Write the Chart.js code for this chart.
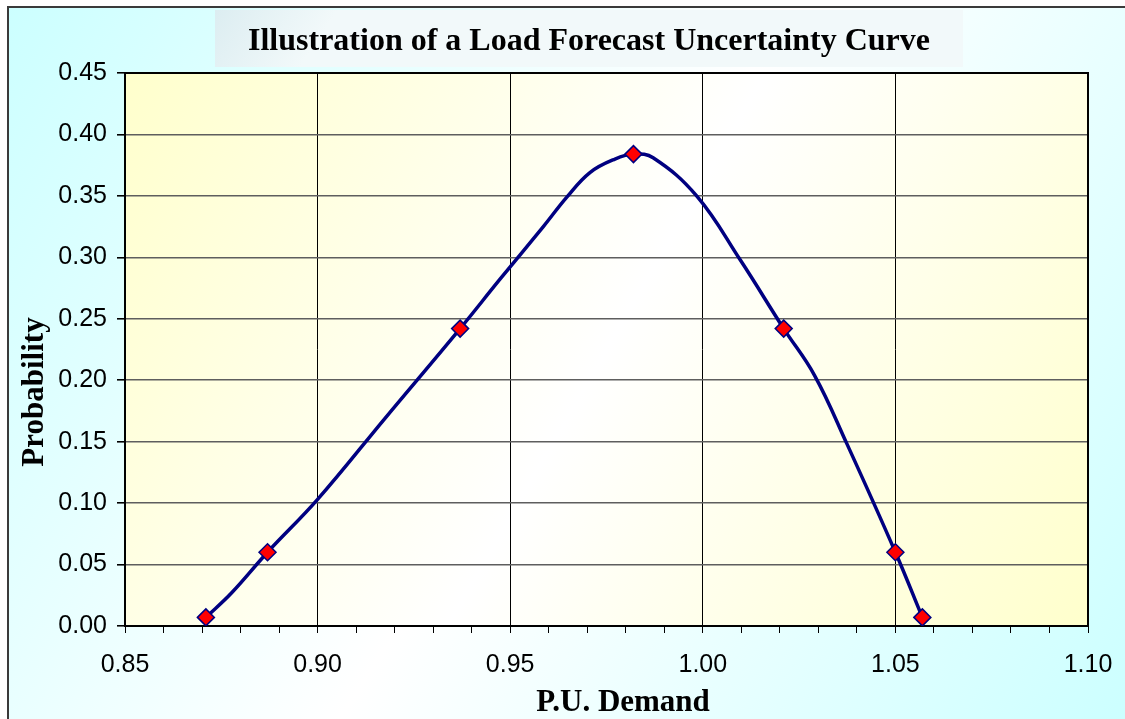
<!DOCTYPE html>
<html>
<head>
<meta charset="utf-8">
<script src="https://cdn.jsdelivr.net/npm/chart.js@4"></script>
<style>
  html, body { margin: 0; padding: 0; background: #ffffff; }
  #wrap { width: 1125px; height: 719px; position: relative; }
</style>
</head>
<body>
<div id="wrap"><canvas id="c" width="1125" height="719"></canvas></div>
<script>
// ---- Data ----
const titleText = "Illustration of a Load Forecast Uncertainty Curve";
const xAxisTitle = "P.U. Demand";
const yAxisTitle = "Probability";

// Marker points (red diamonds)
const markerX = [0.871, 0.887, 0.937, 0.982, 1.021, 1.050, 1.057];
const markerY = [0.007, 0.060, 0.242, 0.384, 0.242, 0.060, 0.007];

// Smoothed curve vertices
const curveX = [0.871, 0.8777, 0.887, 0.900, 0.9175, 0.937, 0.9473, 0.9586, 0.9647, 0.9707, 0.9772, 0.9821, 0.9871, 0.9984, 1.0097, 1.021, 1.029, 1.0373, 1.050, 1.057];
const curveY = [0.007, 0.027, 0.060, 0.103, 0.169, 0.242, 0.282, 0.325, 0.349, 0.369, 0.380, 0.384, 0.381, 0.350, 0.298, 0.242, 0.204, 0.149, 0.060, 0.007];

// Axis ranges / tick steps
const xMin = 0.85, xMax = 1.10, xMinorStep = 0.01;
const yMin = 0.00, yMax = 0.45, yStep = 0.05;

const markerData = markerX.map((x, i) => ({ x: x, y: markerY[i] }));
const curveData = curveX.map((x, i) => ({ x: x, y: curveY[i] }));

const serifBold = 'bold 31px "Liberation Serif", "Times New Roman", serif';

const bgPlugin = {
  id: 'bgPlugin',
  beforeDraw(chart) {
    const ctx = chart.ctx;
    const W = chart.width, H = chart.height;
    ctx.save();
    ctx.fillStyle = '#ffffff';
    ctx.fillRect(0, 0, W, H);
    // outer chart area gradient
    const g = ctx.createLinearGradient(8, 7, W, H);
    g.addColorStop(0, '#ccffff');
    g.addColorStop(0.5, '#ffffff');
    g.addColorStop(1, '#ccffff');
    ctx.fillStyle = g;
    ctx.fillRect(8, 7, W - 8, H - 7);
    ctx.strokeStyle = '#3a3a3a';
    ctx.lineWidth = 2;
    ctx.strokeRect(8, 7, W + 10, H + 10);
    // title box
    const tg = ctx.createLinearGradient(215, 10, 300, 67);
    tg.addColorStop(0, '#dcedf1');
    tg.addColorStop(1, '#f2f9fa');
    ctx.fillStyle = tg;
    ctx.fillRect(215, 10, 748, 57);
    ctx.fillStyle = '#000000';
    ctx.font = 'bold 32px "Liberation Serif", "Times New Roman", serif';
    ctx.textAlign = 'center';
    ctx.textBaseline = 'alphabetic';
    ctx.fillText(titleText, 589, 50);
    // plot area gradient
    const a = chart.chartArea;
    const pg = ctx.createLinearGradient(a.left, a.top, a.right, a.bottom);
    pg.addColorStop(0, '#ffffcc');
    pg.addColorStop(0.5, '#ffffff');
    pg.addColorStop(1, '#ffffcc');
    ctx.fillStyle = pg;
    ctx.fillRect(a.left, a.top, a.right - a.left, a.bottom - a.top);
    ctx.restore();
  },
  beforeDatasetsDraw(chart) {
    const ctx = chart.ctx;
    const a = chart.chartArea;
    ctx.save();
    ctx.strokeStyle = '#000000';
    ctx.lineWidth = 2;
    ctx.strokeRect(a.left, a.top, a.right - a.left, a.bottom - a.top);
    ctx.restore();
  },
  afterDraw(chart) {
    const ctx = chart.ctx;
    ctx.save();
    ctx.fillStyle = '#000000';
    ctx.font = serifBold;
    ctx.textAlign = 'center';
    ctx.textBaseline = 'alphabetic';
    ctx.fillText(xAxisTitle, 623, 711);
    ctx.translate(43, 392);
    ctx.rotate(-Math.PI / 2);
    ctx.fillText(yAxisTitle, 0, 0);
    ctx.restore();
  }
};

function isMajorX(v) {
  return Math.round(v * 100) % 5 === 0;
}

function zeroPad(scale) {
  scale.paddingLeft = 0;
  scale.paddingRight = 0;
  scale.paddingTop = 0;
  scale.paddingBottom = 0;
}

new Chart(document.getElementById('c'), {
  type: 'scatter',
  data: {
    datasets: [
      {
        label: 'Points',
        data: markerData,
        showLine: false,
        pointStyle: 'rectRot',
        pointRadius: 8.5,
        pointHoverRadius: 8.5,
        backgroundColor: '#ff0000',
        borderColor: '#000080',
        borderWidth: 1.5
      },
      {
        label: 'Curve',
        data: curveData,
        showLine: true,
        pointRadius: 0,
        pointHoverRadius: 0,
        borderColor: '#000080',
        borderWidth: 3.5,
        tension: 0.4,
        fill: false
      }
    ]
  },
  options: {
    responsive: false,
    animation: false,
    devicePixelRatio: 1,
    layout: { padding: { top: 73, right: 37, left: 0, bottom: 0 } },
    plugins: {
      legend: { display: false },
      title: { display: false },
      tooltip: { enabled: false }
    },
    scales: {
      x: {
        type: 'linear',
        min: xMin,
        max: xMax,
        afterFit(scale) { scale.height = 93; zeroPad(scale); },
        border: { display: false },
        grid: {
          color: (c) => (c.tick && isMajorX(c.tick.value)) ? '#000000' : 'rgba(0,0,0,0)',
          tickColor: '#000000',
          lineWidth: 1,
          tickLength: 7,
          drawTicks: true
        },
        ticks: {
          stepSize: xMinorStep,
          autoSkip: false,
          maxRotation: 0,
          minRotation: 0,
          padding: 17,
          color: '#000000',
          font: { family: '"Liberation Sans", Arial, sans-serif', size: 25 },
          callback: (v) => isMajorX(v) ? Number(v).toFixed(2) : ''
        },
        title: { display: false }
      },
      y: {
        type: 'linear',
        min: yMin,
        max: yMax,
        afterFit(scale) { scale.width = 125; zeroPad(scale); },
        border: { display: false },
        grid: {
          color: '#5e5e5e',
          tickColor: '#000000',
          lineWidth: 1.6,
          tickLength: 8,
          drawTicks: true
        },
        ticks: {
          stepSize: yStep,
          padding: 10,
          color: '#000000',
          font: { family: '"Liberation Sans", Arial, sans-serif', size: 25 },
          callback: (v) => Number(v).toFixed(2)
        },
        title: { display: false }
      }
    }
  },
  plugins: [bgPlugin]
});
</script>
</body>
</html>
